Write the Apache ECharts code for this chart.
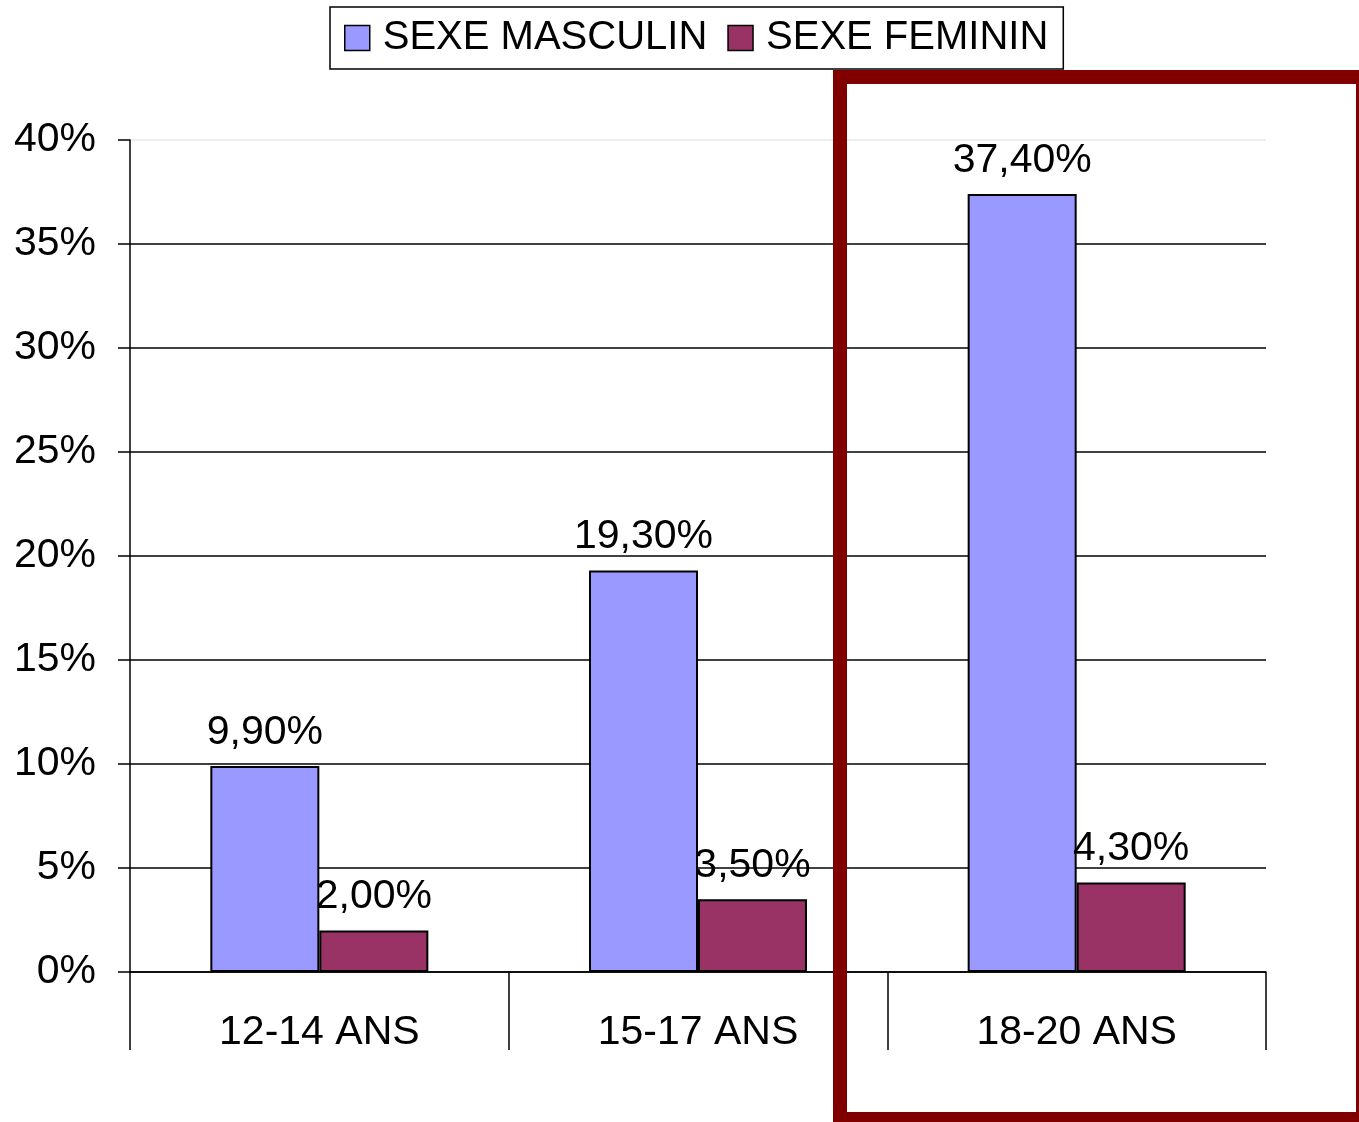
<!DOCTYPE html>
<html>
<head>
<meta charset="utf-8">
<script src="https://cdn.jsdelivr.net/npm/echarts@6/dist/echarts.min.js"></script>
<style>
  html,body{margin:0;padding:0;background:#fff;}
  #chart{width:1359px;height:1122px;}
</style>
</head>
<body>
<div id="chart"></div>
<script>
// données
const categories = ["12-14 ANS", "15-17 ANS", "18-20 ANS"];
const masculin = [9.9, 19.3, 37.4];
const feminin = [2.0, 3.5, 4.3];
const seriesNames = ["SEXE MASCULIN", "SEXE FEMININ"];

const font = "'Liberation Sans', Arial, sans-serif";

const pct = v => v.toFixed(2).replace(".", ",") + "%";

// 9 lignes de 0% à 40%, la dernière en gris clair
const gridColors = ["#000","#000","#000","#000","#000","#000","#000","#000","#e8e8e8"];

const chart = echarts.init(document.getElementById("chart"));

chart.setOption({
	animation:false,
	textStyle:{fontFamily:font},
	legend:{
		left:330, top:7,
		padding:[11,15,11,14],
		itemGap:20,
		itemWidth:25, itemHeight:25,
		icon:"rect",
		borderColor:"#000", borderWidth:1.5,
		itemStyle:{borderColor:"#000", borderWidth:1.5},
		textStyle:{fontSize:40, color:"#000", fontFamily:font, padding:[0,0,0,8]},
		data:seriesNames
	},
	grid:{left:130, right:93, top:140, bottom:150},
	xAxis:{
		type:"category",
		data:categories,
		axisLine:{lineStyle:{color:"#000", width:1.5}},
		axisTick:{show:true, interval:0, length:78, lineStyle:{color:"#000", width:1.5}},
		axisLabel:{fontSize:41, color:"#000", margin:40, fontFamily:font}
	},
	yAxis:{
		type:"value",
		min:0, max:40, interval:5,
		axisLine:{show:true, lineStyle:{color:"#000", width:1.5}},
		axisTick:{show:true, length:12, lineStyle:{color:"#000", width:1.5}},
		axisLabel:{fontSize:41, color:"#000", margin:34, formatter:"{value}%", fontFamily:font},
		splitLine:{lineStyle:{color:gridColors, width:1.5}}
	},
	series:[
		{
			name:seriesNames[0], type:"bar", data:masculin,
			barWidth:109, barGap:"0%",
			itemStyle:{color:"#9999ff", borderColor:"#000", borderWidth:2},
			label:{show:true, position:"top", distance:13, fontSize:41, color:"#000", fontFamily:font,
				formatter:p => pct(p.value)}
		},
		{
			name:seriesNames[1], type:"bar", data:feminin,
			barWidth:109,
			itemStyle:{color:"#993366", borderColor:"#000", borderWidth:2},
			label:{show:true, position:"top", distance:13, fontSize:41, color:"#000", fontFamily:font,
				formatter:p => pct(p.value)}
		}
	],
	graphic:[{
		type:"rect", z:100, silent:true,
		shape:{x:840, y:77, width:523, height:1042},
		style:{fill:"none", stroke:"#800000", lineWidth:14}
	}]
});
</script>
</body>
</html>
